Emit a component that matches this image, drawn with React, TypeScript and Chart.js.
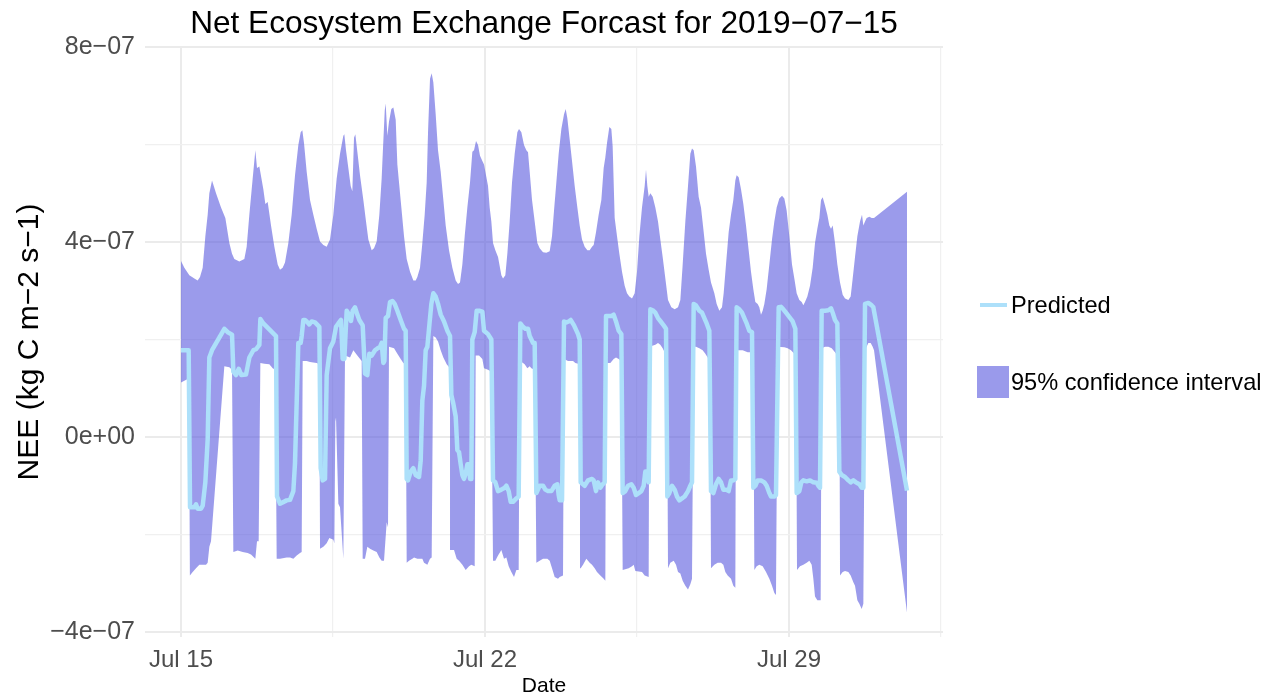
import React, { useEffect, useRef } from "react";
import { Chart, registerables } from "chart.js";

Chart.register(...registerables);

// Time axis: hours since 2019-07-15 00:00. Values in units of 1e-7 kg C m-2 s-1.
const predictedHours = [
  0, 4.24, 4.98, 7.37, 8.29, 9.21, 11.06, 11.98, 13.45, 14.74, 15.66, 17.14, 23.95, 25.79, 28.19, 28.92, 30.4, 31.87, 33.35, 35.92,
  37.77, 39.98, 41.45, 43.29, 43.85, 45.5, 52.5, 53.06, 54.71, 58.39, 60.24, 62.08, 63.0, 64.84, 66.13, 66.68, 67.61, 68.53, 69.45, 70.92,
  72.21, 74.05, 76.45, 77.18, 78.29, 79.58, 80.5, 82.34, 84.18, 85.66, 86.95, 88.42, 89.34, 90.26, 91.55, 92.84, 93.95, 94.87, 96.16, 97.45,
  98.55, 100.4, 101.68, 102.97, 104.08, 105.37, 107.21, 108.68, 109.97, 110.89, 111.82, 112.4, 113.11, 114.4, 115.51, 116.8, 118.08, 119.56, 121.4, 123.24,
  124.16, 124.72, 125.45, 126.93, 128.4, 129.69, 131.53, 132.45, 133.37, 134.3, 135.22, 136.14, 137.06, 138.35, 139.45, 140.74, 142.03, 143.51, 145.35, 147.19,
  148.66, 149.4, 150.51, 151.8, 152.72, 153.64, 154.56, 155.48, 156.4, 157.32, 158.24, 159.16, 159.72, 160.45, 161.0, 162.29, 163.4, 164.69, 166.53, 167.45,
  169.66, 171.5, 172.42, 173.71, 175.19, 177.03, 178.87, 179.79, 181.08, 182.19, 183.48, 185.32, 186.61, 187.53, 189.0, 190.29, 191.77, 192.69, 194.53, 195.45,
  196.37, 198.21, 200.06, 201.34, 202.82, 204.66, 206.5, 207.98, 208.71, 209.27, 210.56, 211.66, 212.95, 214.24, 215.35, 217.19, 219.4, 220.32, 220.87, 223.08,
  224.92, 227.13, 228.05, 229.34, 230.45, 231.74, 233.02, 234.13, 234.87, 236.34, 237.81, 239.1, 240.39, 241.87, 243.34, 244.08, 245.55, 247.03, 248.87, 250.16,
  251.45, 252.92, 254.39, 255.68, 256.6, 257.53, 258.45, 259.37, 260.66, 262.13, 263.6, 264.89, 266.74, 268.03, 268.76, 269.87, 271.34, 272.82, 274.1, 275.39,
  276.87, 278.34, 280.18, 281.47, 282.39, 283.32, 284.6, 286.44, 287.92, 289.21, 290.49, 291.97, 292.89, 294.18, 295.65, 297.13, 298.42, 299.71, 301.18, 302.65,
  303.94, 305.23, 306.34, 307.07, 308.55, 310.02, 311.31, 312.6, 314.07, 315.55, 316.28, 317.39, 318.68, 320.52, 322.36, 323.65, 325.13, 326.05, 327.89, 328.81,
  330.29, 331.57, 332.86, 334.34, 335.81, 338.02, 339.5, 340.23, 341.71, 342.8, 343.92, 345.76, 347.61, 349.45, 351.29, 352.21, 353.13, 354.05, 355.9, 357.74,
  359.21, 360.13, 361.42, 362.71, 363.82, 365.11, 366.95, 368.79, 370.08, 371.55, 373.03, 374.87, 376.16, 377.08, 378.0, 379.84, 381.69, 382.61, 401.2,
];
const predictedE7 = [
  1.78, 1.78, -1.44, -1.44, -1.38, -1.47, -1.47, -1.41, -0.93, -0.05, 1.63, 1.78, 2.22, 2.15, 2.1, 1.34, 1.27, 1.4, 1.27, 1.28,
  1.63, 1.78, 1.8, 1.89, 2.42, 2.33, 2.07, -1.22, -1.37, -1.3, -1.29, -1.11, -0.53, 1.93, 1.93, 2.07, 2.4, 2.4, 2.37, 2.31,
  2.37, 2.35, 2.26, -0.64, -0.89, -0.86, 1.27, 1.82, 1.96, 2.26, 2.33, 2.4, 1.6, 1.6, 2.59, 2.51, 2.38, 2.59, 2.66, 2.51,
  2.4, 2.29, 1.3, 1.27, 1.71, 1.67, 1.78, 1.82, 1.85, 1.93, 1.52, 1.56, 2.44, 2.48, 2.77, 2.79, 2.73, 2.59, 2.4, 2.22,
  2.18, -0.86, -0.89, -0.71, -0.64, -0.78, -0.82, -0.49, 0.75, 1.05, 1.78, 1.85, 2.22, 2.73, 2.95, 2.88, 2.73, 2.51, 2.37, 2.18,
  2.07, 0.86, 0.68, 0.42, -0.27, -0.31, -0.56, -0.78, -0.86, -0.75, -0.56, -0.56, -0.86, -0.86, 2.0, 2.15, 2.59, 2.59, 2.57, 2.18,
  2.11, 2.0, -0.89, -0.93, -1.11, -1.08, -1.04, -1.0, -1.11, -1.33, -1.33, -1.26, -1.22, 2.33, 2.26, 2.22, 2.22, 2.07, 1.93, 1.93,
  -1.15, -1.0, -1.0, -1.08, -1.11, -1.11, -1.0, -0.97, -1.19, -1.3, -1.3, 2.37, 2.35, 2.37, 2.4, 2.29, 2.11, 2.0, -0.93, -1.0,
  -0.89, -0.86, -0.89, -1.11, -0.93, -1.04, -0.97, -0.93, 2.48, 2.48, 2.48, 2.51, 2.37, 2.18, 2.11, -1.15, -1.11, -1.0, -0.97, -1.04,
  -1.19, -1.15, -1.11, -1.0, -0.71, -0.71, -0.93, 2.62, 2.6, 2.55, 2.44, 2.38, 2.29, 2.22, -1.22, -1.15, -1.0, -1.08, -1.22, -1.3,
  -1.26, -1.22, -1.11, -1.0, -0.93, 2.73, 2.7, 2.59, 2.55, 2.44, 2.33, 2.18, -1.11, -1.15, -0.97, -0.86, -0.93, -1.08, -1.08, -1.11,
  -0.89, -0.89, -0.86, 2.66, 2.62, 2.55, 2.44, 2.33, 2.18, 2.15, -1.04, -1.0, -0.89, -0.89, -0.93, -1.0, -1.15, -1.22, -1.22, -1.19,
  2.66, 2.67, 2.62, 2.55, 2.48, 2.37, 2.22, -1.15, -1.11, -0.93, -0.89, -0.91, -0.89, -0.93, -0.94, -1.0, -1.04, 2.59, 2.59, 2.6,
  2.64, 2.55, 2.4, 2.33, -0.71, -0.78, -0.82, -0.89, -0.93, -0.89, -0.93, -0.97, -1.04, -1.04, 2.73, 2.75, 2.7, 2.66, -1.1,
];

const upperHours = [
  0, 1.84, 4.61, 7.37, 9.21, 10.5, 11.98, 13.45, 14.74, 15.66, 17.14, 19.35, 22.11, 24.5, 26.71, 28.19, 29.47, 32.24, 35.0, 36.29,
  37.77, 39.61, 41.08, 42.0, 43.29, 45.5, 46.61, 47.9, 49.74, 51.58, 53.42, 54.71, 56.18, 57.47, 59.32, 61.16, 63.0, 64.84, 66.13, 67.05,
  67.97, 69.45, 71.29, 73.13, 74.97, 76.82, 78.66, 80.5, 82.34, 84.18, 86.03, 87.87, 89.71, 90.26, 91.18, 92.47, 93.76, 94.68, 95.61, 96.34,
  97.45, 98.92, 100.76, 102.24, 103.53, 105.37, 106.66, 108.13, 109.61, 110.89, 111.6, 112.6, 113.11, 114.03, 114.95, 116.24, 117.35, 118.64, 119.56, 120.48,
  121.77, 123.24, 124.72, 126.56, 128.4, 129.69, 130.61, 132.09, 133.37, 134.66, 135.77, 136.51, 137.61, 138.53, 139.45, 140.74, 142.03, 143.51, 144.98, 146.27,
  148.11, 149.95, 151.8, 153.09, 154.19, 155.48, 156.77, 158.24, 159.72, 161.0, 161.93, 163.03, 164.14, 165.24, 166.53, 167.45, 169.66, 170.58, 171.5, 172.42,
  173.71, 175.19, 177.03, 177.95, 179.24, 180.34, 181.63, 182.92, 184.4, 185.87, 186.79, 188.08, 189.56, 190.84, 191.77, 192.69, 193.98, 195.45, 196.92, 198.21,
  200.06, 201.9, 203.74, 205.03, 206.13, 207.42, 208.71, 210.19, 211.66, 212.58, 213.5, 214.79, 216.08, 217.56, 219.03, 220.32, 221.61, 223.08, 224.56, 225.84,
  227.13, 228.05, 229.34, 230.81, 232.29, 233.58, 234.5, 235.42, 236.71, 237.81, 238.55, 239.66, 240.95, 242.24, 243.71, 245.18, 246.47, 247.76, 249.24, 250.71,
  252.0, 253.29, 254.76, 256.24, 256.97, 257.71, 258.45, 259.37, 260.66, 262.13, 263.6, 264.89, 266.18, 267.66, 269.13, 270.97, 272.82, 274.66, 275.95, 277.24,
  278.71, 280.18, 281.47, 282.39, 283.32, 284.6, 286.07, 287.36, 288.65, 290.13, 291.6, 292.89, 294.73, 296.02, 297.5, 298.97, 299.89, 301.18, 302.65, 303.94,
  305.23, 306.34, 307.07, 308.18, 309.47, 310.76, 312.23, 313.71, 314.99, 316.28, 317.39, 318.68, 319.6, 320.52, 321.44, 322.36, 323.65, 325.13, 326.6, 327.89,
  329.18, 330.65, 332.13, 333.42, 334.71, 336.18, 337.65, 338.94, 340.23, 341.71, 343.0, 343.92, 344.84, 346.13, 347.61, 349.08, 350.37, 351.66, 352.76, 353.69,
  354.61, 355.9, 357.18, 358.29, 359.21, 360.13, 361.42, 362.71, 364.19, 365.66, 366.95, 368.79, 370.08, 371.19, 372.48, 373.77, 375.24, 376.34, 377.08, 378.0,
  378.92, 380.4, 381.69, 382.98, 401.2,
];
const upperE7 = [
  3.61, 3.47, 3.32, 3.25, 3.21, 3.28, 3.47, 4.12, 4.56, 5.0, 5.26, 5.0, 4.71, 4.49, 3.98, 3.76, 3.65, 3.6, 3.65, 3.9,
  4.56, 5.3, 5.88, 5.52, 5.55, 5.08, 4.78, 4.82, 4.34, 3.9, 3.54, 3.43, 3.47, 3.58, 3.98, 4.56, 5.37, 5.99, 6.25, 6.29,
  6.03, 5.44, 4.86, 4.56, 4.27, 4.01, 3.94, 3.9, 4.05, 4.56, 5.3, 5.81, 6.18, 6.21, 5.88, 5.52, 5.15, 5.04, 6.14, 6.21,
  5.85, 5.37, 4.86, 4.42, 4.05, 3.83, 3.87, 4.01, 4.56, 5.3, 5.9, 6.7, 6.84, 6.18, 6.47, 6.73, 6.76, 6.51, 5.59, 5.22,
  4.71, 4.12, 3.65, 3.39, 3.21, 3.21, 3.28, 3.47, 3.98, 4.56, 5.22, 6.25, 7.35, 7.46, 7.27, 6.62, 5.88, 5.44, 4.86, 4.34,
  3.83, 3.47, 3.21, 3.14, 3.17, 3.54, 4.12, 4.71, 5.22, 5.85, 5.88, 6.07, 5.99, 5.77, 5.66, 5.59, 5.15, 4.71, 4.42, 3.98,
  3.83, 3.69, 3.32, 3.25, 3.32, 3.76, 4.42, 5.22, 5.81, 6.25, 6.32, 6.25, 5.99, 5.88, 5.84, 5.44, 4.86, 4.42, 3.98, 3.87,
  3.79, 3.78, 3.81, 4.12, 4.64, 5.22, 5.81, 6.32, 6.62, 6.73, 6.54, 6.1, 5.66, 5.15, 4.71, 4.34, 4.05, 3.9, 3.83, 3.83,
  3.9, 3.94, 4.2, 4.56, 4.86, 5.52, 5.74, 6.03, 6.36, 6.32, 5.96, 4.49, 4.12, 3.76, 3.39, 3.1, 2.95, 2.88, 2.84, 2.95,
  3.39, 4.12, 4.71, 5.15, 5.48, 5.15, 4.93, 5.0, 4.93, 4.71, 4.42, 4.05, 3.69, 3.25, 2.81, 2.66, 2.62, 2.66, 2.81, 3.54,
  4.42, 5.15, 5.81, 5.92, 5.88, 5.55, 4.93, 4.71, 4.27, 3.76, 3.43, 3.17, 2.95, 2.73, 2.59, 2.66, 2.95, 3.54, 4.2, 4.56,
  4.86, 5.26, 5.37, 5.33, 5.08, 4.78, 4.34, 3.83, 3.39, 3.03, 2.77, 2.73, 2.66, 2.51, 2.59, 2.73, 3.03, 3.54, 4.05, 4.42,
  4.71, 4.89, 4.95, 4.89, 4.64, 4.12, 3.54, 3.25, 2.95, 2.81, 2.77, 2.7, 2.77, 2.88, 3.1, 3.47, 3.98, 4.27, 4.49, 4.86,
  4.92, 4.75, 4.56, 4.34, 4.27, 4.34, 3.98, 3.54, 3.17, 2.92, 2.84, 2.81, 2.88, 3.25, 3.69, 4.12, 4.42, 4.56, 4.34, 4.42,
  4.49, 4.52, 4.49, 4.49, 5.03,
];

const lowerHours = [
  0, 3.69, 4.4, 4.9, 6.45, 8.29, 10.13, 13.82, 14.74, 15.66, 16.58, 23.95, 26.71, 28.19, 28.92, 31.32, 34.08, 36.84, 38.68, 41.08,
  42.0, 42.92, 43.85, 46.06, 48.82, 50.66, 52.13, 52.87, 54.71, 58.39, 60.24, 62.08, 63.92, 65.76, 66.68, 67.24, 69.45, 71.29, 74.97, 76.45,
  76.82, 78.66, 80.5, 81.97, 84.18, 84.74, 85.29, 85.66, 86.95, 87.87, 89.71, 90.63, 93.4, 95.24, 97.45, 99.84, 100.4, 101.68, 102.97, 104.45,
  106.29, 108.13, 109.61, 110.89, 112.19, 113.66, 114.4, 114.95, 115.88, 117.72, 119.56, 121.4, 122.88, 124.16, 124.72, 126.0, 127.85, 128.77, 130.61, 133.37,
  134.3, 136.14, 137.61, 138.53, 139.45, 140.74, 142.03, 143.51, 144.98, 146.82, 148.66, 149.03, 150.87, 152.35, 153.64, 155.48, 157.32, 159.16, 160.45, 162.29,
  162.85, 164.69, 166.53, 167.45, 169.66, 171.5, 172.42, 173.71, 175.19, 177.03, 178.5, 179.79, 181.08, 182.55, 184.03, 185.32, 186.61, 187.16, 189.0, 189.92,
  191.4, 192.69, 193.61, 195.45, 196.37, 198.21, 200.06, 202.45, 203.74, 205.03, 206.5, 208.34, 209.27, 211.11, 211.66, 213.87, 216.63, 217.92, 220.5, 220.87,
  222.16, 224.0, 225.84, 227.13, 228.6, 229.89, 231.74, 233.58, 234.5, 234.87, 237.26, 239.1, 240.39, 241.87, 243.34, 244.08, 247.39, 249.24, 250.16, 251.08,
  254.76, 256.24, 258.45, 258.82, 262.13, 263.6, 264.89, 266.18, 267.66, 268.58, 269.13, 270.42, 272.27, 273.55, 274.66, 275.95, 277.24, 278.71, 280.18, 281.47,
  282.39, 283.32, 284.6, 286.44, 288.28, 289.76, 291.05, 292.34, 292.89, 294.73, 296.57, 298.42, 299.71, 300.81, 302.1, 303.94, 305.23, 306.34, 306.71, 310.39,
  313.15, 314.99, 316.28, 316.84, 318.13, 319.6, 321.44, 323.29, 325.13, 326.6, 327.89, 328.81, 329.73, 333.42, 335.26, 337.1, 338.94, 339.87, 340.42, 342.08,
  343.92, 345.76, 347.24, 348.53, 349.45, 350.37, 351.66, 353.5, 354.05, 355.9, 357.74, 359.58, 361.42, 362.71, 363.82, 364.19, 365.66, 366.95, 368.79, 370.08,
  371.55, 372.48, 373.77, 374.87, 376.16, 377.08, 378.0, 379.84, 381.13, 382.24, 382.98, 401.2,
];
const lowerE7 = [
  1.12, 1.19, 1.15, -2.84, -2.77, -2.69, -2.62, -2.62, -2.58, -2.25, -2.14, 1.45, 1.43, 1.38, -2.36, -2.33, -2.36, -2.38, -2.41, -2.5,
  -2.14, -2.14, 1.52, 1.5, 1.49, 1.41, 1.38, -2.5, -2.5, -2.47, -2.47, -2.5, -2.43, -2.38, -2.36, 1.56, 1.56, 1.54, 1.52, 1.49,
  -2.29, -2.25, -2.18, -2.07, -2.11, -2.18, 0.32, 0.4, -1.37, -1.44, -2.5, 1.67, 1.63, 1.78, 1.67, 1.56, -2.5, -2.5, -2.25, -2.29,
  -2.33, -2.36, -2.47, -2.54, -2.54, -1.75, -1.85, 1.85, 1.84, 1.82, 1.71, 1.6, 1.52, 1.49, -2.58, -2.54, -2.5, -2.47, -2.5, -2.5,
  -2.58, -2.62, -2.5, -2.47, 2.07, 2.04, 1.96, 1.78, 1.63, 1.49, 1.41, -2.32, -2.32, -2.5, -2.54, -2.62, -2.73, -2.65, -2.62, -2.65,
  1.67, 1.67, 1.6, 1.41, 1.38, 1.34, -2.54, -2.54, -2.43, -2.32, -2.5, -2.47, -2.65, -2.77, -2.87, -2.73, -2.73, 1.56, 1.52, 1.49,
  1.41, 1.45, 1.41, 1.38, -2.58, -2.54, -2.5, -2.5, -2.54, -2.69, -2.87, -2.91, -2.87, -2.84, 1.6, 1.56, 1.56, 1.52, 1.49, -2.69,
  -2.62, -2.5, -2.58, -2.62, -2.69, -2.77, -2.84, -2.91, -2.95, 1.52, 1.52, 1.6, 1.63, 1.6, 1.56, -2.73, -2.69, -2.65, -2.62, -2.75,
  -2.77, -2.84, -2.87, 1.85, 1.89, 1.93, 1.89, 1.82, 1.71, 1.67, -2.69, -2.58, -2.54, -2.62, -2.77, -2.8, -2.95, -3.05, -3.13, -3.02,
  -2.91, 1.85, 1.85, 1.82, 1.78, 1.71, 1.63, 1.6, -2.69, -2.62, -2.58, -2.58, -2.62, -2.77, -2.84, -2.91, -3.05, -3.09, 1.78, 1.78,
  1.74, 1.74, 1.71, -2.73, -2.65, -2.62, -2.65, -2.77, -2.91, -3.05, -3.2, -3.24, 1.85, 1.84, 1.82, 1.78, 1.71, 1.67, -2.73, -2.65,
  -2.62, -2.58, -2.54, -2.62, -2.91, -3.27, -3.35, -3.35, 1.82, 1.85, 1.85, 1.82, 1.74, 1.67, 1.63, -2.84, -2.77, -2.75, -2.77, -2.84,
  -2.98, -3.05, -3.35, -3.42, -3.53, -3.42, 1.78, 1.93, 1.93, 1.85, 1.78, -3.6,
];

const xMajorHours = [0, 168, 336];
const xTickLabels = ["Jul 15", "Jul 22", "Jul 29"];
const xMinorHours = [84, 252, 420];
const yMajorE7 = [-4, 0, 4, 8];
const yTickLabels = ["\u22124e\u221207", "0e+00", "4e\u221207", "8e\u221207"];
const yMinorE7 = [-2, 2, 6];

const TITLE = "Net Ecosystem Exchange Forcast for 2019\u221207\u221215";
const X_TITLE = "Date";
const Y_TITLE = "NEE (kg C m\u22122 s\u22121)";
const LEGEND_LABELS = ["Predicted", "95% confidence interval"];

const FONT = '"Liberation Sans", Arial, Helvetica, sans-serif';
const PRED_COLOR = "#ADE0FA";
const BAND_COLOR = "rgba(88, 88, 222, 0.6)";
const BAND_SOLID = "rgb(154, 154, 235)";
const GRID_MAJOR = "#EBEBEB";
const GRID_MINOR = "#F0F0F0";

function toPoints(hours: number[], vals: number[]) {
  return hours.map((h, i) => ({ x: h, y: vals[i] }));
}

const textPlugin = {
  id: "textPlugin",
  afterDraw(chart: any) {
    const ctx = chart.ctx as CanvasRenderingContext2D;
    const area = chart.chartArea;
    const cx = (area.left + area.right) / 2;
    ctx.save();
    ctx.fillStyle = "#000000";
    ctx.textBaseline = "alphabetic";
    ctx.textAlign = "center";
    ctx.font = `31.6px ${FONT}`;
    ctx.fillText(TITLE, cx, 33);
    ctx.font = `21px ${FONT}`;
    ctx.fillText(X_TITLE, cx, 692);
    ctx.save();
    ctx.translate(38, (area.top + area.bottom) / 2);
    ctx.rotate(-Math.PI / 2);
    ctx.font = `30px ${FONT}`;
    ctx.fillText(Y_TITLE, 0, 0);
    ctx.restore();

    // legend
    ctx.strokeStyle = PRED_COLOR;
    ctx.lineWidth = 4;
    ctx.beginPath();
    ctx.moveTo(980, 305);
    ctx.lineTo(1007, 305);
    ctx.stroke();
    ctx.fillStyle = BAND_SOLID;
    ctx.fillRect(977, 366, 32, 32);
    ctx.fillStyle = "#000000";
    ctx.textAlign = "left";
    ctx.textBaseline = "middle";
    ctx.font = `23.6px ${FONT}`;
    ctx.fillText(LEGEND_LABELS[0], 1011, 306);
    ctx.fillText(LEGEND_LABELS[1], 1011, 383);
    ctx.restore();
  },
};

export default function App() {
  const ref = useRef<HTMLCanvasElement | null>(null);
  useEffect(() => {
    document.body.style.margin = "0";
    const canvas = ref.current;
    if (!canvas) return;
    const chart = new Chart(canvas, {
      type: "line",
      data: {
        datasets: [
          {
            label: LEGEND_LABELS[0],
            data: toPoints(predictedHours, predictedE7),
            borderColor: PRED_COLOR,
            borderWidth: 4.5,
            pointRadius: 0,
            fill: false,
            tension: 0,
            borderJoinStyle: "round",
          },
          {
            label: "lower",
            data: toPoints(lowerHours, lowerE7),
            borderColor: "rgba(0,0,0,0)",
            borderWidth: 0,
            pointRadius: 0,
            fill: false,
            tension: 0,
          },
          {
            label: LEGEND_LABELS[1],
            data: toPoints(upperHours, upperE7),
            borderColor: "rgba(0,0,0,0)",
            borderWidth: 0,
            pointRadius: 0,
            fill: 1,
            backgroundColor: BAND_COLOR,
            tension: 0,
          },
        ],
      } as any,
      options: {
        responsive: false,
        animation: false,
        events: [],
        layout: { padding: { top: 47, right: 333, bottom: 0, left: 0 } },
        plugins: {
          legend: { display: false },
          title: { display: false },
          tooltip: { enabled: false },
        },
        scales: {
          x: {
            type: "linear",
            min: -19.9,
            max: 421.1,
            afterFit: (s: any) => {
              s.height = 60;
            },
            afterBuildTicks: (s: any) => {
              s.ticks = [...xMajorHours, ...xMinorHours].sort((a, b) => a - b).map((v) => ({ value: v }));
            },
            ticks: {
              autoSkip: false,
              maxRotation: 0,
              padding: 9,
              color: "#4D4D4D",
              font: { family: FONT, size: 24 },
              callback: (v: any) => {
                const i = xMajorHours.indexOf(Number(v));
                return i >= 0 ? xTickLabels[i] : "";
              },
            },
            grid: {
              drawTicks: false,
              color: (c: any) => (xMajorHours.includes(c.tick?.value) ? GRID_MAJOR : GRID_MINOR),
              lineWidth: (c: any) => (xMajorHours.includes(c.tick?.value) ? 2 : 1.2),
            },
            border: { display: false },
          },
          y: {
            type: "linear",
            min: -4.1026,
            max: 8.0,
            afterFit: (s: any) => {
              s.width = 145;
            },
            afterBuildTicks: (s: any) => {
              s.ticks = [...yMajorE7, ...yMinorE7].sort((a, b) => a - b).map((v) => ({ value: v }));
            },
            ticks: {
              autoSkip: false,
              padding: 10,
              color: "#4D4D4D",
              font: { family: FONT, size: 25 },
              callback: (v: any) => {
                const i = yMajorE7.indexOf(Number(v));
                return i >= 0 ? yTickLabels[i] : "";
              },
            },
            grid: {
              drawTicks: false,
              color: (c: any) => (yMajorE7.includes(c.tick?.value) ? GRID_MAJOR : GRID_MINOR),
              lineWidth: (c: any) => (yMajorE7.includes(c.tick?.value) ? 2 : 1.2),
            },
            border: { display: false },
          },
        },
      } as any,
      plugins: [textPlugin],
    });
    return () => chart.destroy();
  }, []);
  return (
    <div style={{ width: 1276, height: 697, position: "relative" }}>
      <canvas ref={ref} width={1276} height={697} style={{ display: "block" }} />
    </div>
  );
}
